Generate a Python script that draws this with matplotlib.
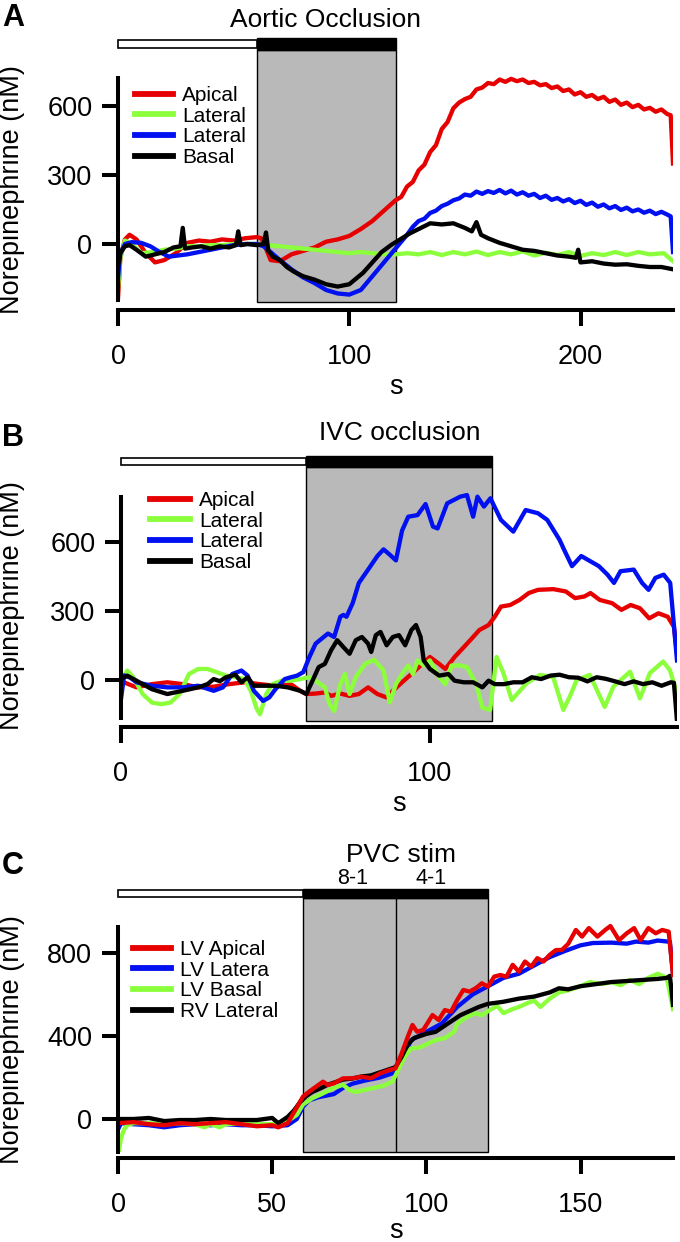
import matplotlib
matplotlib.use("Agg")
import matplotlib.pyplot as plt
from matplotlib.patches import Rectangle
import numpy as np

plt.rcParams['font.family'] = ['Liberation Sans', 'DejaVu Sans']

W, H = 680, 1242
RED, GREEN, BLUE, BLACK = '#e60000', '#8cff3c', '#0010f0', '#000000'

# ---------------- panel A : aortic occlusion ----------------
a_t_red = [0, 1, 3, 5, 8, 12, 16, 20, 25, 30, 35, 40, 45, 50, 55, 60, 62, 64, 66, 70, 75, 80, 85, 90,
           95, 100, 105, 110, 115, 120, 122.5, 125, 127.5, 130, 132.5, 135, 137.5, 140, 142.5, 145,
           147.5, 150, 152.5, 155, 157.5, 160, 162.5, 165, 167.5, 170, 172.5, 175, 177.5, 180, 182.5,
           185, 187.5, 190, 192.5, 195, 197.5, 200, 202.5, 205, 207.5, 210, 212.5, 215, 217.5, 220,
           222.5, 225, 227.5, 230, 232.5, 235, 237.5, 239, 240]
a_red = [-235, -60, 20, 40, 20, -40, -80, -70, -40, 5, 15, 10, 20, 15, 25, 30, 25, -20, -70, -75, -45,
         -30, -15, 10, 20, 35, 65, 100, 145, 190, 205, 250, 270, 320, 345, 400, 430, 500, 530, 590, 615,
         630, 640, 672, 680, 700, 695, 715, 705, 718, 708, 715, 700, 705, 690, 695, 678, 685, 665, 672,
         650, 660, 640, 648, 630, 640, 618, 628, 605, 615, 595, 605, 585, 592, 575, 585, 565, 560, 350]
a_t_blue = [0, 1, 3, 6, 10, 14, 18, 22, 26, 30, 35, 40, 45, 50, 55, 60, 63, 66, 70, 75, 80, 85, 90, 95,
            100, 105, 110, 115, 120, 122.5, 125, 127.5, 130, 132.5, 135, 137.5, 140, 142.5, 145, 147.5,
            150, 152.5, 155, 157.5, 160, 162.5, 165, 167.5, 170, 172.5, 175, 177.5, 180, 182.5, 185,
            187.5, 190, 192.5, 195, 197.5, 200, 202.5, 205, 207.5, 210, 212.5, 215, 217.5, 220, 222.5,
            225, 227.5, 230, 232.5, 235, 237.5, 239, 240]
a_blue = [-150, -40, 0, 8, 5, -10, -35, -55, -50, -45, -35, -25, -15, -5, 0, 0, -10, -35, -70, -110, -145,
          -170, -200, -215, -220, -200, -140, -80, -20, 10, 40, 75, 100, 110, 135, 145, 165, 175, 190,
          198, 215, 210, 228, 218, 230, 222, 235, 220, 232, 215, 225, 210, 218, 200, 210, 192, 200, 185,
          195, 178, 188, 170, 180, 162, 172, 155, 165, 148, 158, 142, 150, 136, 145, 130, 140, 128, 120,
          -35]
a_t_green = [0, 1, 3, 6, 10, 15, 20, 25, 30, 35, 40, 45, 50, 55, 60, 65, 70, 75, 80, 85, 90, 95, 100,
             105, 110, 115, 120, 125, 130, 135, 140, 145, 150, 155, 160, 165, 170, 175, 180, 185, 190,
             195, 200, 205, 210, 215, 220, 225, 230, 236, 240]
a_green = [-190, -60, 15, 0, -40, -35, -25, -20, -10, -10, -5, -5, 0, 0, 0, -5, -10, -15, -20, -25, -30,
           -35, -40, -35, -40, -45, -45, -40, -45, -35, -48, -35, -45, -33, -48, -35, -45, -32, -50, -38,
           -48, -35, -52, -40, -48, -35, -48, -35, -45, -40, -75]
a_t_black = [0, 1, 3, 5, 8, 12, 16, 20, 24, 27, 28, 29, 32, 36, 40, 44, 48, 51, 52, 53, 56, 60, 63, 64,
             65, 67, 70, 73, 76, 80, 85, 90, 95, 100, 103, 106, 110, 114, 118, 122, 126, 130, 135, 140,
             145, 150, 153, 155, 157, 160, 165, 170, 175, 180, 185, 190, 195, 198, 199, 200, 205, 210,
             215, 220, 225, 230, 235, 240]
a_black = [-100, -40, -10, -5, -25, -55, -45, -35, -15, -10, 70, -20, -15, -10, -20, -10, -15, -5, 55, -5,
           0, -5, 0, 50, -30, -55, -70, -100, -120, -140, -155, -175, -185, -175, -150, -125, -80, -35,
           -5, 20, 45, 65, 90, 85, 90, 70, 55, 95, 40, 25, 5, -10, -25, -30, -40, -50, -55, -60, -25,
           -80, -75, -85, -90, -88, -95, -100, -100, -110]

# ---------------- panel B : IVC occlusion ----------------
b_t_red = [0, 5, 10, 15, 20, 25, 30, 35, 40, 45, 50, 55, 58, 60, 63, 66, 68, 71, 74, 77, 80, 83, 86, 88,
           91, 94, 97, 100, 103, 105, 108, 111, 114, 116, 119, 121, 123, 126, 129, 132, 135, 140, 144,
           147, 150, 152, 155, 159, 162, 165, 168, 171, 174, 177, 179, 180]
b_red = [-5, -32, -18, -10, -18, -32, -29, -18, -10, -18, -25, -18, -47, -61, -59, -54, -69, -59, -69,
         -61, -32, -61, -76, -47, -10, 26, 63, 100, 70, 48, 100, 143, 187, 217, 239, 275, 319, 326, 348,
         378, 392, 395, 385, 356, 363, 378, 348, 334, 305, 326, 312, 268, 290, 275, 231, 114]
b_t_green = [0, 2, 4, 7, 10, 13, 16, 19, 22, 25, 28, 31, 34, 37, 40, 42, 44, 45, 47, 49, 52, 55, 58, 61,
             63, 66, 67.5, 69, 71, 72.5, 74, 76, 79, 82, 85, 87, 89, 91, 93, 94.5, 96, 98, 100, 103,
             105, 107, 110, 112, 115, 117, 119.5, 121.6, 123.8, 126.5, 131.3, 135.6, 139.9, 143.2,
             145.3, 147.5, 151.8, 156.6, 159.4, 164.8, 168, 171.2, 175.5, 177.7, 180]
b_green = [-10, 41, 12, -61, -98, -105, -98, -61, 26, 48, 48, 34, 19, 12, 4, -47, -127, -149, -61, -18,
           -3, -3, 4, 12, -3, -32, -105, -135, -18, 26, -61, 12, 70, 88, 41, -98, -18, 26, 63, 26, 85,
           63, 85, 12, -18, 63, 63, 56, -18, -120, -130, 100, 30, -87, -14, 22, 13, -130, -72, 0, 22,
           -117, -29, 36, -80, 30, 80, 43, -60]
b_t_blue = [0, 1, 3, 5, 10, 15, 20, 25, 30, 33, 36, 39, 41, 43, 46, 48, 50, 53, 55, 57, 59, 61, 63, 65,
            67, 69, 71, 72, 73, 75, 77, 80, 83, 85, 87, 89, 91, 93, 96, 98.6, 101, 102.5, 105.6, 109.8,
            112, 114, 115.4, 117.5, 119.6, 123, 127, 131, 135, 138, 142, 143.5, 146, 149, 154.7, 157.5,
            159.6, 161.7, 166, 168.7, 170.8, 173, 175.7, 177.8, 180]
b_blue = [-83, 20, 10, -10, -25, -32, -32, -25, -47, -32, 26, 41, 19, -47, -91, -76, -40, 4, 12, 19, 34,
          100, 158, 180, 202, 187, 275, 283, 275, 334, 422, 480, 539, 568, 545, 520, 650, 710, 717, 765,
          667, 659, 768, 797, 804, 710, 797, 754, 790, 696, 645, 739, 725, 696, 609, 565, 495, 539, 495,
          458, 422, 473, 480, 422, 392, 444, 458, 422, 85]
b_t_black = [0, 2, 5, 10, 15, 20, 25, 28, 30, 32, 34, 37, 39, 41, 43, 46, 50, 54, 58, 60, 62, 64, 66, 68,
             70, 72, 74, 76, 78, 80, 81, 82.5, 84, 86, 88, 90, 92, 94, 95.5, 97, 98, 100, 103, 106, 108,
             111, 114, 117, 119, 121, 124, 127, 130, 133, 136, 139, 142, 145, 148, 151, 154, 157, 160,
             163, 166, 169, 172, 175, 178, 179, 180]
b_black = [4, 19, -3, -40, -61, -47, -32, -18, 4, -5, 12, 23, -10, 12, -25, -25, -25, -32, -47, -61, -3,
           56, 70, 129, 173, 143, 114, 173, 187, 158, 122, 195, 209, 151, 187, 195, 151, 217, 239, 187,
           85, 48, 19, 26, -3, -10, -10, -32, -3, -18, -18, -10, -10, 12, 4, 19, 23, 12, 10, -6, 12, 5,
           -6, -18, -6, -18, -10, -25, -10, -12, -179]

# ---------------- panel C : PVC stim ----------------
c_t_red = [0, 5, 10, 15, 20, 25, 30, 35, 40, 45, 50, 52, 55, 57.5, 60, 62, 65, 66.5, 68, 70, 73, 76, 79,
           82, 85, 88, 90, 92, 94, 95.5, 97, 99, 101, 102, 104, 106, 108, 110, 112, 114, 116, 118, 120,
           122, 124, 126, 128, 130, 132, 134, 136, 138, 140, 142, 144, 146, 148.5, 150.5, 152.7, 155.5,
           158, 159.7, 162.5, 165, 167.4, 169.5, 172, 174.4, 176.5, 178.6, 180]
c_red = [-20, -15, -25, -30, -20, -25, -20, -15, -25, -35, -30, -40, -20, 43, 108, 132, 164, 180, 164,
         172, 196, 196, 204, 196, 220, 236, 244, 316, 397, 453, 421, 429, 477, 501, 477, 525, 517, 573,
         622, 614, 630, 654, 638, 686, 694, 686, 743, 710, 759, 734, 775, 759, 791, 814, 815, 844, 911,
         879, 920, 879, 911, 930, 862, 895, 920, 862, 920, 895, 911, 903, 694]
c_t_blue = [0, 1, 5, 10, 15, 20, 25, 30, 35, 40, 45, 50, 55, 58, 60, 62, 65, 70, 73, 76, 80, 85, 90, 93,
            95, 100, 105, 110, 115, 120, 125, 130, 135, 140, 145, 150, 154, 160, 165, 168, 172, 175,
            179, 180]
c_blue = [-50, -20, -25, -30, -40, -30, -25, -30, -25, -30, -30, -35, -30, 0, 60, 90, 105, 120, 150, 170,
          185, 200, 225, 310, 380, 420, 460, 540, 600, 640, 680, 700, 740, 780, 810, 837, 848, 850, 845,
          855, 850, 860, 854, 700]
c_t_green = [0, 1, 2, 3, 5, 10, 15, 20, 25, 28, 30, 33, 35, 40, 45, 50, 55, 58, 60, 63, 66, 70, 73, 75,
             77, 80, 83, 86, 89, 91, 93, 95, 98, 100, 103, 106, 109, 110, 113, 116, 118, 120, 123, 125,
             128, 130, 133, 135, 137, 140, 143, 146, 150, 153, 157, 160, 163, 166, 169, 172, 175, 178, 180]
c_green = [-180, -90, -50, -30, -20, -20, -25, -20, -25, -40, -25, -40, -25, -20, -25, -25, -10, 20, 70,
           100, 120, 150, 165, 140, 130, 140, 150, 160, 180, 240, 300, 340, 345, 360, 380, 390, 420, 460,
           490, 510, 500, 520, 545, 510, 530, 540, 560, 570, 540, 580, 610, 620, 640, 660, 650, 660, 645,
           670, 650, 680, 700, 680, 530]
c_t_black = [0, 5, 10, 15, 20, 25, 30, 35, 40, 45, 50, 52, 55, 57, 59, 61, 63, 66, 68, 70, 73, 76, 79,
             82, 85, 88, 90, 92, 94, 96, 98, 100, 103, 105, 108, 111, 114, 117, 120, 125, 130, 135, 140,
             143, 146, 150, 155, 160, 165, 170, 175, 178, 179, 180]
c_black = [0, 0, 5, -10, -5, -5, 0, -5, -5, -5, 5, -20, 10, 40, 80, 110, 130, 150, 165, 175, 190, 195,
           205, 210, 225, 240, 250, 300, 360, 390, 400, 410, 420, 440, 470, 500, 520, 540, 555, 565, 580,
           590, 610, 630, 625, 640, 650, 660, 665, 670, 675, 680, 690, 550]

fig = plt.figure(figsize=(W / 100, H / 100), dpi=100)


def px(x, y):
    return x / W, 1 - y / H


def make_axes(x0, x1, t1, y0, ppu, ylo, yhi):
    # x0/x1: pixel of t=0 / t=t1, y0: pixel row of value 0, ppu: pixels per nM
    bot = y0 + (-ylo) * ppu
    top = y0 - yhi * ppu
    ax = fig.add_axes([x0 / W, 1 - bot / H, (x1 - x0) / W, (bot - top) / H])
    ax.set_xlim(0, t1)
    ax.set_ylim(ylo, yhi)
    ax.patch.set_visible(False)
    for s in ['top', 'right']:
        ax.spines[s].set_visible(False)
    for s in ['left', 'bottom']:
        ax.spines[s].set_linewidth(2.9)
    ax.tick_params(width=2.9, length=11.5, labelsize=19.5, direction='out')
    ax.tick_params(axis='y', pad=7)
    ax.tick_params(axis='x', pad=13)
    return ax


def stim(ax, t_on, t_off, ylo, gray_top, bar_top, divider=None):
    ax.add_patch(Rectangle((t_on, ylo), t_off - t_on, gray_top - ylo, fc='#b9b9b9', ec='black',
                           lw=1.0, zorder=0, clip_on=False))
    ax.add_patch(Rectangle((t_on, gray_top), t_off - t_on, bar_top - gray_top, fc='black', ec='black',
                           lw=1.0, zorder=1, clip_on=False))
    h = bar_top - gray_top
    ax.add_patch(Rectangle((0, gray_top + 0.15 * h), t_on, 0.7 * h, fc='white', ec='black',
                           lw=1.2, zorder=1, clip_on=False))
    if divider is not None:
        ax.plot([divider, divider], [ylo, gray_top], color='black', lw=1.0, zorder=1)


def legend(ax, handles, labels, x, y, hl):
    lg = ax.legend(handles, labels, loc='upper left', bbox_to_anchor=px(x, y),
                   bbox_transform=fig.transFigure, frameon=False, fontsize=15, borderpad=0,
                   borderaxespad=0, handlelength=hl, handletextpad=0.45, labelspacing=0.08)
    for l in lg.get_lines():
        l.set_linewidth(4.2)


LW = 3.1

# ---- A ----
axA = make_axes(118, 673, 240, 244, 0.23, -252, 900)
stim(axA, 60, 120, -252, 843, 896)
hA = []
for t, v, c in [(a_t_red, a_red, RED), (a_t_green, a_green, GREEN),
                (a_t_blue, a_blue, BLUE), (a_t_black, a_black, BLACK)]:
    hA.append(axA.plot(t, v, color=c, lw=LW, solid_joinstyle='round')[0])
axA.set_xticks([0, 100, 200])
axA.set_yticks([0, 300, 600])
axA.spines['left'].set_bounds(-243, 722)
axA.spines['bottom'].set_position(('outward', 6))
axA.set_xlabel('s', fontsize=19.5, labelpad=3)
legend(axA, hA, ['Apical', 'Lateral', 'Lateral', 'Basal'], 135, 86, 1.8)

# ---- B ----
axB = make_axes(121, 677, 180, 680, 0.23, -178, 980)
stim(axB, 60, 120, -178, 926, 974)
hB = []
for t, v, c in [(b_t_red, b_red, RED), (b_t_green, b_green, GREEN),
                (b_t_blue, b_blue, BLUE), (b_t_black, b_black, BLACK)]:
    hB.append(axB.plot(t, v, color=c, lw=LW, solid_joinstyle='round')[0])
axB.set_xticks([0, 100])
axB.set_yticks([0, 300, 600])
axB.spines['left'].set_bounds(-165, 796)
axB.spines['bottom'].set_position(('outward', 4.5))
axB.set_xlabel('s', fontsize=19.5, labelpad=3)
legend(axB, hB, ['Apical', 'Lateral', 'Lateral', 'Basal'], 150, 491, 1.9)

# ---- C ----
axC = make_axes(118, 673, 180, 1119, 0.2075, -159, 1108)
stim(axC, 60, 120, -159, 1065, 1108, divider=90)
hC = {}
for key, t, v, c in [('blue', c_t_blue, c_blue, BLUE), ('green', c_t_green, c_green, GREEN),
                     ('black', c_t_black, c_black, BLACK), ('red', c_t_red, c_red, RED)]:
    hC[key] = axC.plot(t, v, color=c, lw=LW, solid_joinstyle='round')[0]
axC.set_xticks([0, 50, 100, 150])
axC.set_yticks([0, 400, 800])
axC.spines['left'].set_bounds(-159, 925)
axC.spines['bottom'].set_position(('outward', 4.5))
axC.set_xlabel('s', fontsize=19.5, labelpad=0)
legend(axC, [hC['red'], hC['blue'], hC['green'], hC['black']],
       ['LV Apical', 'LV Latera', 'LV Basal', 'RV Lateral'], 133, 940, 1.8)

# ---- texts ----
for lab, y in [('A', 18), ('B', 438), ('C', 866)]:
    fig.text(*px(13, y), lab, fontsize=22, fontweight='bold', ha='center', va='center')
for y in [190, 606, 1040]:
    fig.text(*px(12, y), 'Norepinephrine (nM)', fontsize=19.5, rotation=90, ha='center', va='center')
fig.text(*px(326, 20), 'Aortic Occlusion', fontsize=19, ha='center', va='center')
fig.text(*px(400, 433), 'IVC occlusion', fontsize=19, ha='center', va='center')
fig.text(*px(401, 855), 'PVC stim', fontsize=19, ha='center', va='center')
fig.text(*px(353, 879), '8-1', fontsize=15.5, ha='center', va='center')
fig.text(*px(431, 879), '4-1', fontsize=15.5, ha='center', va='center')

fig.savefig('out.png', dpi=100)
